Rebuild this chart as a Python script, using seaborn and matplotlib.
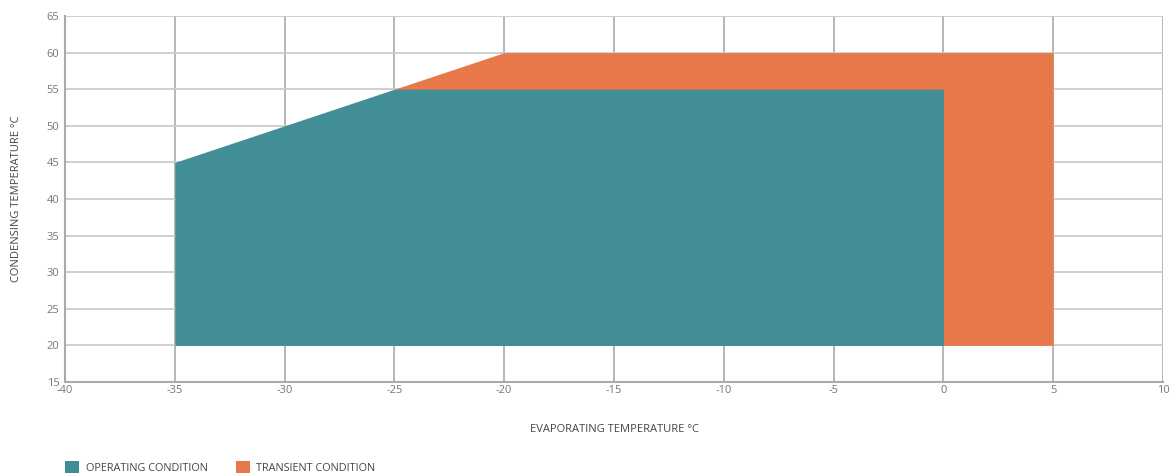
import matplotlib
matplotlib.use("Agg")
import matplotlib.pyplot as plt
from matplotlib.patches import Patch
import seaborn as sns
import pandas as pd

# Data
operating_x = [-35, -25, 0]
operating_upper = [45, 55, 55]
transient_x = [-25, -20, 5]
transient_upper = [55, 60, 60]
lower_limit = 20
x_ticks = [-40, -35, -30, -25, -20, -15, -10, -5, 0, 5, 10]
y_ticks = [15, 20, 25, 30, 35, 40, 45, 50, 55, 60, 65]
series_names = ["OPERATING CONDITION", "TRANSIENT CONDITION"]
colors = ["#418e96", "#e6784a"]

sns.set_theme(style="white")
plt.rcParams['font.family'] = ['Open Sans', 'DejaVu Sans']

fig = plt.figure(figsize=(11.75, 4.75), dpi=100)
ax = fig.add_axes([65/1175, 1-382/475, (1163-65)/1175, (382-16)/475])

df_t = pd.DataFrame({"x": transient_x, "y": transient_upper})
df_o = pd.DataFrame({"x": operating_x, "y": operating_upper})

sns.lineplot(data=df_t, x="x", y="y", ax=ax, color=colors[1], linewidth=0, zorder=2)
ax.fill_between(df_t["x"], lower_limit, df_t["y"], color=colors[1], linewidth=0, zorder=2)
sns.lineplot(data=df_o, x="x", y="y", ax=ax, color=colors[0], linewidth=0, zorder=3)
ax.fill_between(df_o["x"], lower_limit, df_o["y"], color=colors[0], linewidth=0, zorder=3)

ax.set_xlim(-40, 10)
ax.set_ylim(15, 65)
ax.set_xticks(x_ticks)
ax.set_yticks(y_ticks)
ax.set_xticklabels([str(v) for v in x_ticks])
ax.set_yticklabels([str(v) for v in y_ticks])
ax.grid(True, axis="y", color="#cccccc", linewidth=1.3, zorder=1)
ax.grid(True, axis="x", color="#b0b0b0", linewidth=1.3, zorder=1)
ax.set_axisbelow(True)
for s in ["top", "right"]:
    ax.spines[s].set_visible(False)
for s in ["left", "bottom"]:
    ax.spines[s].set_color("#aaaaaa")
    ax.spines[s].set_linewidth(1.5)
ax.tick_params(axis="both", length=0, labelsize=8, colors="#777777", pad=4)
ax.tick_params(axis="x", pad=2)

ax.set_xlabel("EVAPORATING TEMPERATURE °C", fontsize=8, color="#444444", labelpad=20)
ax.set_ylabel("CONDENSING TEMPERATURE °C", fontsize=8, color="#444444", labelpad=18)

handles = [Patch(facecolor=colors[0], edgecolor="none"), Patch(facecolor=colors[1], edgecolor="none")]
fig.legend(handles, series_names, loc="lower left", bbox_to_anchor=(0.047, -0.018), ncol=2,
           frameon=False, fontsize=7.8, handlelength=1.3, handleheight=1.3,
           columnspacing=2.6, handletextpad=0.6, labelcolor="#444444")

fig.savefig("out.png", dpi=100)
